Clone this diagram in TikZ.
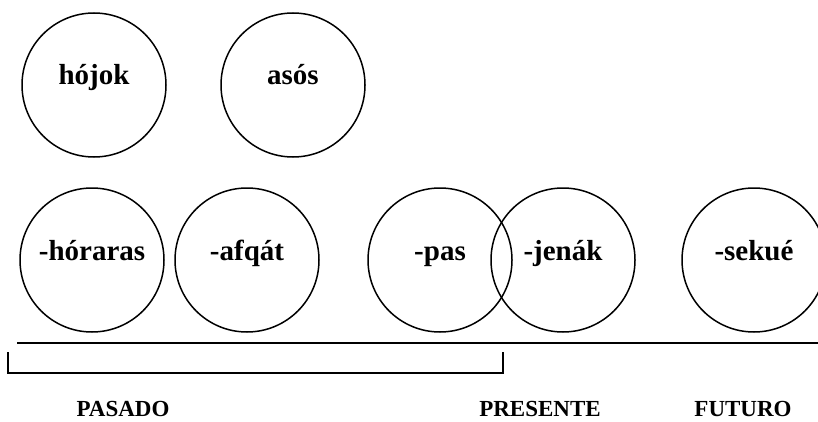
\documentclass[tikz,border=0pt]{standalone}
\usepackage{fontspec}
\setmainfont{Liberation Serif}

\tikzset{
  morph/.style={circle, draw, line width=1.5pt, minimum size=144pt, inner sep=0pt,
    font=\bfseries\fontsize{29}{30}\selectfont, text height=10pt, text depth=10pt},
  period/.style={anchor=base, font=\bfseries\fontsize{23}{24}\selectfont},
  rule/.style={line width=1.5pt}
}

\begin{document}
\begin{tikzpicture}[x=1pt, y=1pt]
\useasboundingbox (0,0) rectangle (818,421);
\pgfmathsetmacro{\ytop}{336} % upper row
\pgfmathsetmacro{\ybot}{161} % lower row
\pgfmathsetmacro{\yaxis}{78} % time line
\node[morph] (hojok) at (94,\ytop) {hójok};
\node[morph] (asos) at (293,\ytop) {asós};
\node[morph] (horaras) at (92,\ybot) {-hóraras};
\node[morph] (afqat) at (247,\ybot) {-afqát};
\node[morph] (pas) at (440,\ybot) {-pas};
\node[morph] (jenak) at (563,\ybot) {-jenák};
\node[morph] (sekue) at (754,\ybot) {-sekué};
\coordinate (axisL) at (17,\yaxis);
\coordinate (axisR) at (818,\yaxis);
\coordinate (brL) at (8,69);
\coordinate (brR) at (503,69);
\draw[rule] (axisL) -- (axisR);
\draw[rule] (brL) -- ++(0,-21) -| (brR);
\node[period] (pasado) at (123,5) {PASADO};
\node[period] (presente) at (540,5) {PRESENTE};
\node[period] (futuro) at (743,5) {FUTURO};
\end{tikzpicture}
\end{document}
